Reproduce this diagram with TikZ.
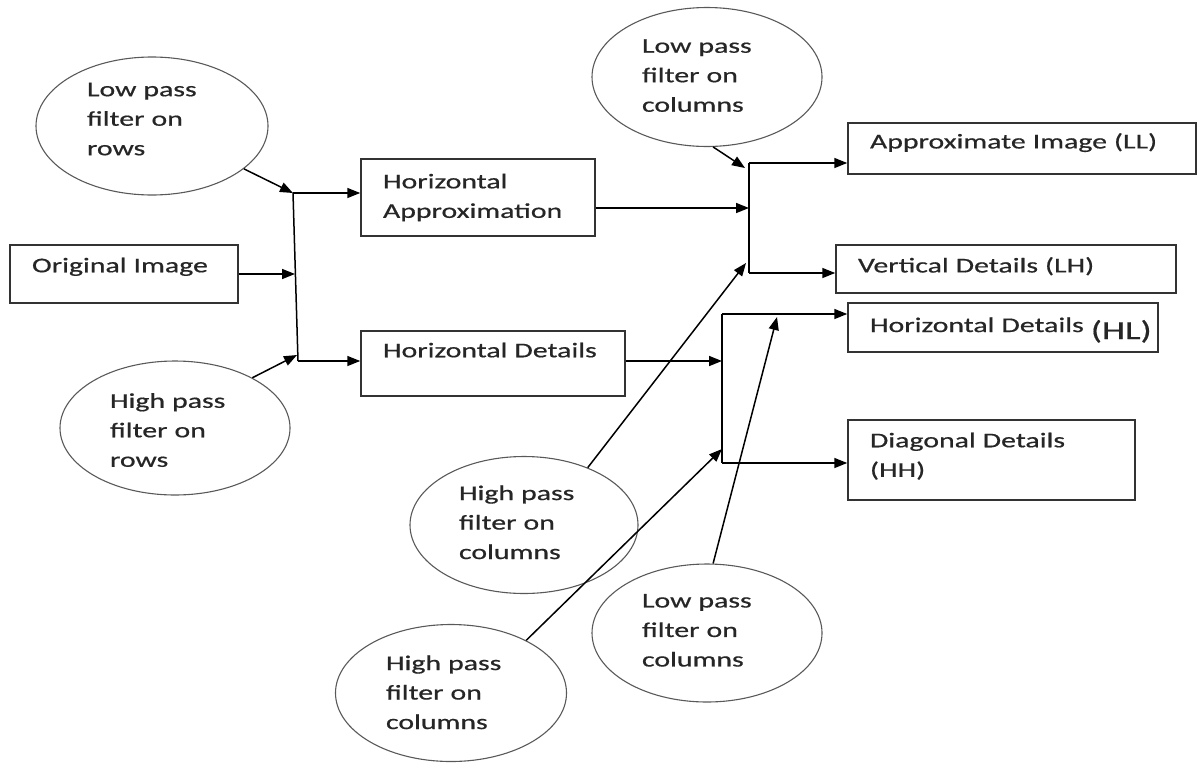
\documentclass[tikz,border=0pt]{standalone}
\usepackage{fontspec}
\setmainfont{Carlito}[FakeStretch=1.42, FakeBold=0.6, WordSpace=0.8]
\usetikzlibrary{shapes.geometric,arrows.meta}

\begin{document}
\begin{tikzpicture}[x=1pt,y=-1pt,
    every node/.style={font=\fontsize{21}{29.5}\selectfont, text=black!85},
    box/.style={draw=black!80, rectangle, line width=1.5pt, align=left, inner xsep=22pt, inner ysep=0pt},
    filt/.style={draw=black!65, ellipse, line width=1.1pt, align=left, text width=130pt, inner sep=0pt, text depth=62pt},
    flow/.style={line width=1.5pt, -{Triangle[length=13pt,width=10pt]}},
    bus/.style={line width=1.5pt}]

    % Page size of the reference (y runs downwards)
    \useasboundingbox (0,0) rectangle (1198,763);

    % Row filtering of the input
    \node[filt, minimum width=232pt, minimum height=138pt, text depth=73pt] (lpr) at (152,126) {Low pass\\filter on\\rows};
    \node[box, text width=184pt, minimum height=58pt, text depth=18pt] (orig) at (124,274) {Original Image};
    \node[filt, minimum width=230pt, minimum height=134pt, text depth=55pt] (hpr) at (175,428) {High pass\\filter on\\rows};

    % Junction after the row filters
    \coordinate (rTop) at (293,193);
    \coordinate (rMid) at (295,274);
    \coordinate (rLow) at (297,355);
    \coordinate (rBot) at (298,361);
    \draw[bus] (rTop) -- (rBot);
    \draw[flow] (lpr.-25) -- (rTop);
    \draw[flow] (orig) -- (rMid);
    \draw[flow] (hpr.33) -- (rLow);

    % Intermediate results
    \node[box, text width=190pt, minimum height=77pt] (ha) at (478,197.5) {Horizontal\\Approximation};
    \node[box, text width=220pt, minimum height=65pt, text depth=27pt] (hd) at (493,363.5) {Horizontal Details};
    \draw[flow] (rTop) -- (rTop -| ha.west);
    \draw[flow] (rBot) -- (rBot -| hd.west);

    % Column filtering, upper branch
    \node[filt, minimum width=230pt, minimum height=139pt] (lpcA) at (707,77) {Low pass\\filter on\\columns};
    \node[filt, minimum width=228pt, minimum height=137pt, text depth=64.5pt] (hpcA) at (524,525) {High pass\\filter on\\columns};
    \coordinate (aTop) at (749,163);
    \coordinate (aMid) at (749,208);
    \coordinate (aBot) at (749,273);
    \draw[bus] (aTop) -- (aBot);
    \draw[flow] (ha.east |- aMid) -- (aMid);
    \draw[flow] (lpcA.-85) -- ([xshift=-4pt, yshift=-5pt]aTop);
    \draw[flow] (hpcA.42) -- ([xshift=-3pt, yshift=10pt]aBot);

    \node[box, text width=304pt, minimum height=51pt, text depth=15.5pt] (ll) at (1022,148.5) {Approximate Image (LL)};
    \node[box, text width=296pt, minimum height=48pt, text depth=8.5pt] (lh) at (1006,269) {Vertical Details (LH)};
    \draw[flow] (aTop) -- (aTop -| ll.west);
    \draw[flow] (aBot) -- (aBot -| lh.west);

    % Column filtering, lower branch
    \node[filt, minimum width=231pt, minimum height=137pt, text depth=60.5pt] (hpcB) at (451,693) {High pass\\filter on\\columns};
    \node[filt, minimum width=230pt, minimum height=138pt, text depth=64.5pt] (lpcB) at (707,633) {Low pass\\filter on\\columns};
    \coordinate (bTop) at (722,314);
    \coordinate (bMid) at (722,361);
    \coordinate (bBot) at (722,463);
    \coordinate (bHit) at (777,317);
    \draw[bus] (bTop) -- (bBot);
    \draw[flow] (hd.east |- bMid) -- (bMid);
    \draw[flow] (hpcB.35) -- ([yshift=14pt]bBot);
    \draw[flow] (lpcB.85) -- (bHit);

    \node[box, text width=266pt, minimum height=49pt, text depth=5.5pt] (hl) at (1003,327.5) {\mbox{Horizontal Details~\raisebox{-7pt}{\fontsize{26}{26}\selectfont(HL)}}};
    \node[box, text width=243pt, minimum height=80pt, text depth=40pt] (hh) at (991.5,460) {Diagonal Details\\(HH)};
    \draw[flow] (bTop) -- (bTop -| hl.west);
    \draw[flow] (bBot) -- (bBot -| hh.west);

\end{tikzpicture}
\end{document}
